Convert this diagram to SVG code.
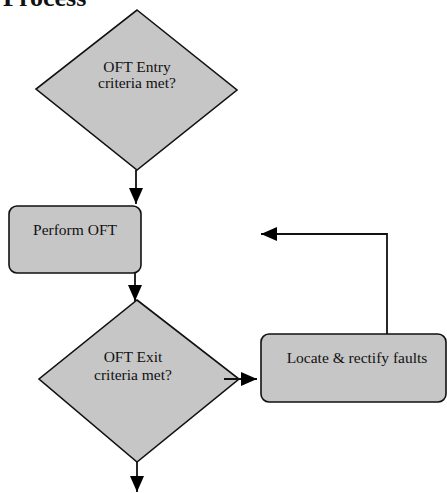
<svg xmlns="http://www.w3.org/2000/svg" width="447" height="493" viewBox="0 0 447 493">
<defs>
<marker id="ah" markerUnits="userSpaceOnUse" markerWidth="16" markerHeight="14" refX="16" refY="7" orient="auto">
<path d="M0,0 L16,7 L0,14 Z" fill="#000"/>
</marker>
</defs>
<style>
.shape{fill:#c6c6c6;stroke:#111;stroke-width:1.6}
.lbl{font-family:"Liberation Serif","Times New Roman",serif;font-size:15.5px;fill:#111;text-anchor:middle}
.edge{fill:none;stroke:#111;stroke-width:1.8}
</style>
<rect width="447" height="493" fill="#fff"/>
<text x="3" y="6" font-family="Liberation Serif, serif" font-weight="bold" font-size="26" fill="#111">Process</text>
<g id="entry">
<polygon class="shape" points="137,10 237,90 137,170 36,89"/>
<text class="lbl" x="137" y="72">OFT Entry</text>
<text class="lbl" x="137" y="88">criteria met?</text>
</g>
<g id="perform">
<rect class="shape" x="9" y="206" width="132" height="67" rx="8"/>
<text class="lbl" x="75" y="235">Perform OFT</text>
</g>
<g id="exit">
<polygon class="shape" points="137,300 239,379 137,462 39,379"/>
<text class="lbl" x="133" y="362">OFT Exit</text>
<text class="lbl" x="133" y="380">criteria met?</text>
</g>
<g id="locate">
<rect class="shape" x="261" y="334" width="185" height="68" rx="8"/>
<text class="lbl" x="357" y="363">Locate &amp; rectify faults</text>
</g>
<g id="connectors">
<line class="edge" x1="136" y1="170" x2="136" y2="204" marker-end="url(#ah)"/>
<line class="edge" x1="135" y1="273" x2="135" y2="301" marker-end="url(#ah)"/>
<line class="edge" x1="224" y1="379" x2="257" y2="379" marker-end="url(#ah)"/>
<polyline class="edge" points="387,334 387,234 261,234" marker-end="url(#ah)"/>
<line class="edge" x1="137" y1="462" x2="137" y2="492" marker-end="url(#ah)"/>
</g>
</svg>
